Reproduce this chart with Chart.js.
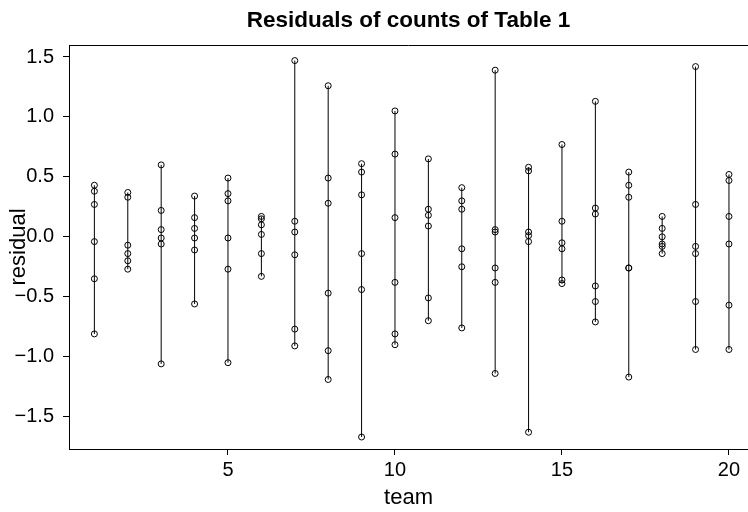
<!DOCTYPE html>
<html>
<head>
<meta charset="utf-8">
<script src="https://cdn.jsdelivr.net/npm/chart.js@4/dist/chart.umd.min.js"></script>
<style>
  html, body { margin: 0; padding: 0; background: #fff; }
  #wrap { width: 748px; height: 512px; }
</style>
</head>
<body>
<div id="wrap"><canvas id="chart"></canvas></div>
<script>
// residuals per team
const teams = [1, 2, 3, 4, 5, 6, 7, 8, 9, 10, 11, 12, 13, 14, 15, 16, 17, 18, 19, 20];
const residuals = [
  [0.43, 0.38, 0.27, -0.04, -0.35, -0.81],
  [0.37, 0.33, -0.07, -0.14, -0.20, -0.27],
  [0.60, 0.22, 0.06, -0.01, -0.06, -1.06],
  [0.34, 0.16, 0.07, -0.01, -0.11, -0.56],
  [0.49, 0.36, 0.30, -0.01, -0.27, -1.05],
  [0.17, 0.15, 0.10, 0.02, -0.14, -0.33],
  [1.47, 0.13, 0.04, -0.15, -0.77, -0.91],
  [1.26, 0.49, 0.28, -0.47, -0.95, -1.19],
  [0.61, 0.54, 0.35, -0.14, -0.44, -1.67],
  [1.05, 0.69, 0.16, -0.38, -0.81, -0.90],
  [0.65, 0.23, 0.18, 0.09, -0.51, -0.70],
  [0.41, 0.30, 0.23, -0.10, -0.25, -0.76],
  [1.39, 0.06, 0.04, -0.26, -0.38, -1.14],
  [0.58, 0.55, 0.04, 0.01, -0.04, -1.63],
  [0.77, 0.13, -0.05, -0.10, -0.36, -0.39],
  [1.13, 0.24, 0.19, -0.41, -0.54, -0.71],
  [0.54, 0.43, 0.33, -0.26, -0.26, -1.17],
  [0.17, 0.07, 0.00, -0.06, -0.08, -0.14],
  [1.42, 0.27, -0.08, -0.14, -0.54, -0.94],
  [0.52, 0.47, 0.17, -0.06, -0.57, -0.94]
];
const xTicks = [5, 10, 15, 20];
const yTicks = [-1.5, -1.0, -0.5, 0.0, 0.5, 1.0, 1.5];

const points = teams.flatMap((t, i) => residuals[i].map(r => ({ x: t, y: r })));
const ranges = teams.flatMap((t, i) => [
  { x: t, y: Math.min(...residuals[i]) },
  { x: t, y: Math.max(...residuals[i]) },
  { x: t, y: null }
]);

const font = "'Liberation Sans', Arial, sans-serif";

// top frame line and the y label that sits over the tick labels
const framePlugin = {
  id: "frame",
  afterDraw(chart) {
    const { ctx, chartArea } = chart;
    ctx.save();
    ctx.strokeStyle = "#000";
    ctx.lineWidth = 1;
    ctx.beginPath();
    ctx.moveTo(chartArea.left, chartArea.top + 0.5);
    ctx.lineTo(chart.width, chartArea.top + 0.5);
    ctx.stroke();
    ctx.translate(19, (chartArea.top + chartArea.bottom) / 2);
    ctx.rotate(-Math.PI / 2);
    ctx.fillStyle = "#000";
    ctx.font = "22px " + font;
    ctx.textAlign = "center";
    ctx.textBaseline = "middle";
    ctx.fillText("residual", 0, 0);
    ctx.restore();
  }
};

new Chart(document.getElementById("chart"), {
  type: "scatter",
  data: {
    datasets: [
      {
        data: ranges,
        showLine: true,
        spanGaps: false,
        borderColor: "#000",
        borderWidth: 1,
        pointRadius: 0,
        pointHoverRadius: 0
      },
      {
        data: points,
        pointStyle: "circle",
        pointRadius: 3,
        pointBorderWidth: 1,
        pointBorderColor: "#000",
        pointBackgroundColor: "rgba(0,0,0,0)"
      }
    ]
  },
  options: {
    responsive: true,
    maintainAspectRatio: false,
    animation: false,
    layout: { padding: 0, autoPadding: false },
    plugins: {
      legend: { display: false },
      tooltip: { enabled: false },
      title: {
        display: true,
        text: "Residuals of counts of Table 1",
        fullSize: false,
        color: "#000",
        font: { family: font, size: 22.5, weight: "bold" },
        padding: { top: 7, bottom: 11 }
      }
    },
    scales: {
      x: {
        type: "linear",
        min: 0.24,
        max: 20.57,
        afterBuildTicks: s => { s.ticks = xTicks.map(v => ({ value: v })); },
        afterFit: s => { s.height = 63; s.paddingRight = 0; s.paddingLeft = 0; },
        border: { display: true, color: "#000", width: 1 },
        grid: { drawOnChartArea: false, drawTicks: true, tickLength: 6, color: "#000" },
        ticks: { color: "#000", padding: 3, maxRotation: 0, font: { family: font, size: 20 } },
        title: {
          display: true,
          text: "team",
          color: "#000",
          font: { family: font, size: 22 },
          padding: { top: 0, bottom: 1 }
        }
      },
      y: {
        type: "linear",
        min: -1.77,
        max: 1.6,
        afterBuildTicks: s => { s.ticks = yTicks.map(v => ({ value: v })); },
        afterFit: s => { s.width = 69; s.paddingTop = 0; s.paddingBottom = 0; },
        border: { display: true, color: "#000", width: 1 },
        grid: { drawOnChartArea: false, drawTicks: true, tickLength: 6, color: "#000" },
        ticks: {
          color: "#000",
          padding: 9,
          font: { family: font, size: 20 },
          callback: v => v.toFixed(1).replace("-", "\u2212")
        }
      }
    }
  },
  plugins: [framePlugin]
});
</script>
</body>
</html>
